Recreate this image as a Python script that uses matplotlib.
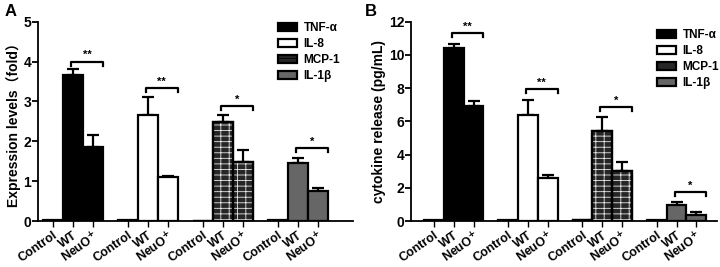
'''
Cytokine expression / release bar charts (panels A and B)
'''

import numpy as np
import matplotlib
matplotlib.use('Agg')
import matplotlib.pyplot as plt
import matplotlib.transforms as mtransforms
from matplotlib.patches import Patch

plt.rcParams['font.family'] = ['Liberation Sans', 'Noto Sans CJK SC', 'DejaVu Sans']
plt.rcParams['font.weight'] = 'bold'
plt.rcParams['hatch.linewidth'] = 0.6

# Data
cytokines = ['TNF-α', 'IL-8', 'MCP-1', 'IL-1β']
groups = ['Control', 'WT', 'NeuO$^{+}$']

# Panel A: expression levels (fold)
exprMean = [[0.02, 3.67, 1.85],
            [0.02, 2.65, 1.10],
            [0.00, 2.48, 1.48],
            [0.02, 1.45, 0.75]]
exprErr = [[0.0, 0.15, 0.30],
           [0.0, 0.45, 0.02],
           [0.0, 0.18, 0.30],
           [0.0, 0.13, 0.07]]
exprSig = ['**', '**', '*', '*']
exprBracket = [4.0, 3.33, 2.88, 1.82]

# Panel B: cytokine release (pg/mL)
relMean = [[0.05, 10.40, 6.90],
           [0.05, 6.40, 2.60],
           [0.05, 5.40, 3.00],
           [0.05, 0.95, 0.35]]
relErr = [[0.0, 0.25, 0.35],
          [0.0, 0.90, 0.20],
          [0.0, 0.85, 0.55],
          [0.0, 0.20, 0.20]]
relSig = ['**', '**', '*', '*']
relBracket = [11.3, 7.93, 6.85, 1.77]

# Styles
faceColors = ['black', 'white', '#262626', '#666666']
hatches = [None, None, '---||', None]
groupStep = 3.75


def PlotPanel(ax, means, errs, sigs, brackets, ylim, yticks, ylabel, xlim, tickH):
    '''
    Draw one grouped bar panel
    '''
    allPos = []
    allLab = []
    for g in range(len(cytokines)):
        pos = g * groupStep + np.arange(3)
        ax.bar(pos, means[g], width=1.0, color=faceColors[g],
               edgecolor='black', linewidth=1.6, zorder=2)
        if hatches[g]:
            ax.bar(pos, means[g], width=1.0, color='none',
                   edgecolor='#e8e8e8', linewidth=0, hatch=hatches[g], zorder=3)
            ax.bar(pos, means[g], width=1.0, color='none',
                   edgecolor='black', linewidth=1.6, zorder=4)
        ax.errorbar(pos[1:], means[g][1:], yerr=[[0, 0], errs[g][1:]],
                    fmt='none', ecolor='black', elinewidth=1.6,
                    capsize=4, capthick=1.6, zorder=1)
        # significance bracket
        x0 = pos[1] - 0.1
        x1 = pos[2] + 0.5
        y = brackets[g]
        ax.plot([x0, x0, x1, x1], [y - tickH, y, y, y - tickH],
                color='black', linewidth=1.6, clip_on=False)
        ax.text((x0 + x1) / 2, y + tickH * 0.3, sigs[g], ha='center',
                va='bottom', fontsize=8, fontweight='bold')
        allPos.extend(pos)
        allLab.extend(groups)

    ax.set_xlim(*xlim)
    ax.set_ylim(*ylim)
    ax.set_yticks(yticks)
    ax.set_xticks(allPos)
    ax.set_xticklabels(allLab, rotation=35, ha='right',
                       rotation_mode='anchor', fontsize=9, fontweight='bold')
    shift = mtransforms.ScaledTranslation(4 / 100, 0, ax.figure.dpi_scale_trans)
    for lab in ax.get_xticklabels():
        lab.set_transform(lab.get_transform() + shift)
    ax.tick_params(axis='y', labelsize=10, width=1.3, length=4, pad=1)
    ax.tick_params(axis='x', width=1.0, length=4, pad=2)
    for lab in ax.get_yticklabels():
        lab.set_fontweight('bold')
    ax.spines['top'].set_visible(False)
    ax.spines['right'].set_visible(False)
    ax.spines['left'].set_linewidth(1.3)
    ax.spines['bottom'].set_linewidth(1.3)
    ax.set_ylabel(ylabel, fontsize=10, fontweight='bold', labelpad=2)


fig = plt.figure(figsize=(7.2, 2.67), dpi=100)
axA = fig.add_axes([0.0528, 0.172, 0.437, 0.747])
axB = fig.add_axes([0.571, 0.172, 0.425, 0.747])

PlotPanel(axA, exprMean, exprErr, exprSig, exprBracket, (0, 5), range(0, 6),
          'Expression levels（fold）', (-0.75, 15.0), 0.1)
PlotPanel(axB, relMean, relErr, relSig, relBracket, (0, 12), range(0, 13, 2),
          'cytokine release (pg/mL)', (-1.15, 14.3), 0.24)

handles = [Patch(facecolor=faceColors[i], edgecolor='black', linewidth=1.6,
                 label=cytokines[i]) for i in range(4)]
handles[2] = Patch(facecolor=faceColors[2], edgecolor='black', linewidth=1.6,
                   hatch='-', label=cytokines[2])
for ax, anchor in [(axA, (273 / 720, 1 - 17 / 267)), (axB, (652 / 720, 1 - 24 / 267))]:
    fig.legend(handles=handles, loc='upper left', bbox_to_anchor=anchor,
               frameon=False, handlelength=1.6, handleheight=0.65,
               handletextpad=0.6, labelspacing=0.35, borderaxespad=0,
               prop={'weight': 'bold', 'size': 8.5})

fig.text(5 / 720, 1 - 12 / 267, 'A', fontsize=12, fontweight='bold', va='center')
fig.text(365 / 720, 1 - 12 / 267, 'B', fontsize=12, fontweight='bold', va='center')

fig.savefig('out.png', dpi=100)
